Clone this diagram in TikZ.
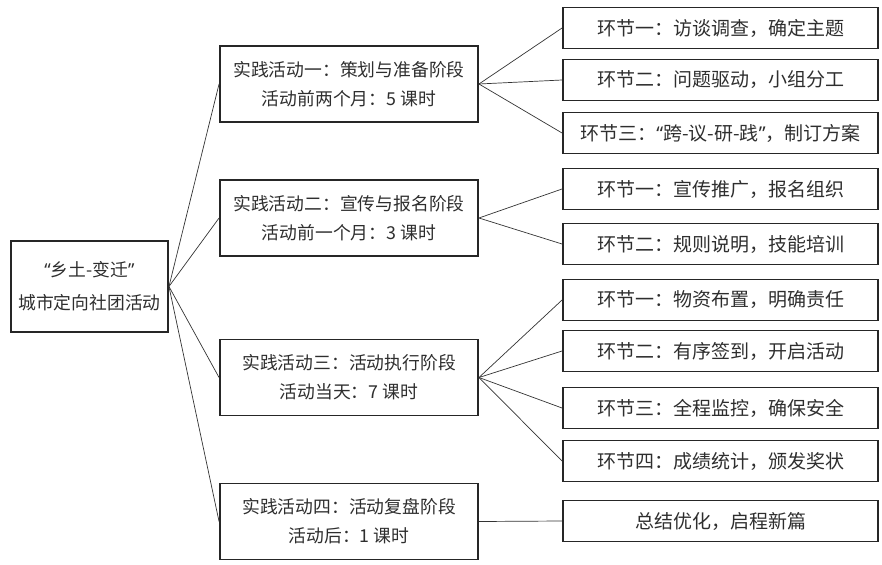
\documentclass[tikz,border=0pt]{standalone}
\usepackage{fontspec}
\setmainfont{Noto Sans CJK SC}
\newfontfamily\latq{Noto Sans}
\newcommand{\myLQ}{{\latq “}}
\newcommand{\myRQ}{{\latq ”}}
\begin{document}
\begin{tikzpicture}[x=1pt,y=-1pt,
  box/.style={draw=black!85,line width=1.9pt,rectangle,inner sep=0pt,align=center,text=black!82},
  rootbox/.style={box,minimum width=157pt,minimum height=91pt,font=\fontsize{17.8}{33}\selectfont},
  actbox/.style={box,minimum width=258pt,minimum height=76pt,font=\fontsize{17.8}{29}\selectfont},
  stepbox/.style={box,minimum width=315pt,minimum height=41pt,font=\fontsize{19}{22}\selectfont},
  link/.style={draw=black!80,line width=0.7pt}]
\useasboundingbox (0,0) rectangle (882,564);
\node[rootbox] (root) at (89.5,286.5) {\myLQ 乡土-变迁\myRQ\\城市定向社团活动};
\node[actbox] (a1) at (349,84) {实践活动一：策划与准备阶段\\活动前两个月：5 课时};
\node[actbox] (a2) at (349,218) {实践活动二：宣传与报名阶段\\活动前一个月：3 课时};
\node[actbox] (a3) at (349,377.5) {实践活动三：活动执行阶段\\活动当天：7 课时};
\node[actbox] (a4) at (349,521.5) {实践活动四：活动复盘阶段\\活动后：1 课时};
\node[stepbox] (b1) at (720.5,28) {环节一：访谈调查，确定主题};
\node[stepbox] (b2) at (720.5,80) {环节二：问题驱动，小组分工};
\node[stepbox] (b3) at (720.5,133) {环节三：\myLQ 跨-议-研-践\myRQ，制订方案};
\node[stepbox] (b4) at (720.5,189) {环节一：宣传推广，报名组织};
\node[stepbox] (b5) at (720.5,244) {环节二：规则说明，技能培训};
\node[stepbox] (b6) at (720.5,300) {环节一：物资布置，明确责任};
\node[stepbox] (b7) at (720.5,351) {环节二：有序签到，开启活动};
\node[stepbox] (b8) at (720.5,408) {环节三：全程监控，确保安全};
\node[stepbox] (b9) at (720.5,461) {环节四：成绩统计，颁发奖状};
\node[stepbox] (b10) at (720.5,521) {总结优化，启程新篇};
\foreach \a in {a1,a2,a3,a4} \draw[link] (root.east) -- (\a.west);
\foreach \b in {b1,b2,b3} \draw[link] (a1.east) -- (\b.west);
\foreach \b in {b4,b5} \draw[link] (a2.east) -- (\b.west);
\foreach \b in {b6,b7,b8,b9} \draw[link] (a3.east) -- (\b.west);
\draw[link] (a4.east) -- (b10.west);
\end{tikzpicture}
\end{document}
